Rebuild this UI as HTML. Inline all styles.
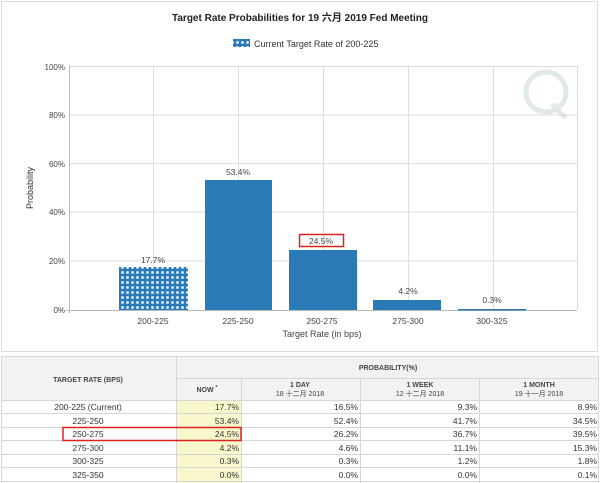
<!DOCTYPE html>
<html><head><meta charset="utf-8"><style>
html,body{margin:0;padding:0;background:#fff;width:600px;height:483px;overflow:hidden;font-family:"Liberation Sans","Noto Sans CJK SC",sans-serif;}
svg text{font-family:"Liberation Sans","Noto Sans CJK SC",sans-serif;}
</style></head><body>
<svg width="600" height="483" viewBox="0 0 600 483" xmlns="http://www.w3.org/2000/svg">
<defs>
<pattern id="hx" width="5" height="5" patternUnits="userSpaceOnUse">
<rect width="5" height="5" fill="#2a7ab8"/>
<circle cx="2.5" cy="2.5" r="1.5" fill="#cfe6f7"/>
</pattern>
</defs>
<rect x="1.5" y="1.5" width="596" height="350" fill="#fff" stroke="#ddd"/>
<text x="300" y="21" font-size="10" font-weight="bold" text-anchor="middle" fill="#222">Target Rate Probabilities for 19 六月  2019 Fed Meeting</text>
<rect x="233" y="39" width="17" height="8" fill="url(#hx)"/>
<text x="254" y="47" font-size="9" fill="#333">Current Target Rate of 200-225</text>
<!-- grid -->
<g stroke="#ddd" stroke-width="1">
<line x1="69" y1="66.5" x2="577" y2="66.5"/>
<line x1="69" y1="115" x2="577" y2="115"/>
<line x1="69" y1="163.5" x2="577" y2="163.5"/>
<line x1="69" y1="212" x2="577" y2="212"/>
<line x1="69" y1="261" x2="577" y2="261"/>
<line x1="153.5" y1="66" x2="153.5" y2="310"/>
<line x1="238.5" y1="66" x2="238.5" y2="310"/>
<line x1="323.5" y1="66" x2="323.5" y2="310"/>
<line x1="408.5" y1="66" x2="408.5" y2="310"/>
<line x1="493.5" y1="66" x2="493.5" y2="310"/>
<line x1="577.5" y1="66" x2="577.5" y2="310"/>
</g>
<line x1="69.5" y1="66" x2="69.5" y2="313" stroke="#bbb"/>
<line x1="66" y1="310.5" x2="577" y2="310.5" stroke="#bbb"/>
<g font-size="8" fill="#444" text-anchor="end">
<text x="65" y="70">100%</text><text x="65" y="118">80%</text><text x="65" y="167">60%</text>
<text x="65" y="215">40%</text><text x="65" y="264">20%</text><text x="65" y="313">0%</text>
</g>
<text transform="translate(33,188) rotate(-90)" font-size="9" fill="#333" text-anchor="middle">Probability</text>
<!-- watermark -->
<g opacity="0.25" stroke="#8aa" fill="none" stroke-width="5"><circle cx="546" cy="92" r="20"/><line x1="552" y1="104" x2="566" y2="118"/></g>
<!-- bars -->
<rect x="119" y="267" width="69" height="43" fill="url(#hx)"/>
<rect x="205" y="180" width="67" height="130" fill="#2a7ab5"/>
<rect x="289" y="250" width="68" height="60" fill="#2a7ab5"/>
<rect x="373" y="300" width="68" height="10" fill="#2a7ab5"/>
<rect x="458" y="309" width="68" height="1.5" fill="#2a7ab5"/>
<g font-size="8.5" fill="#444" text-anchor="middle">
<text x="153" y="263">17.7%</text><text x="238" y="175">53.4%</text><text x="321" y="244">24.5%</text>
<text x="408" y="294">4.2%</text><text x="492" y="303">0.3%</text>
<text x="153" y="324">200-225</text><text x="238" y="324">225-250</text><text x="322" y="324">250-275</text>
<text x="408" y="324">275-300</text><text x="492" y="324">300-325</text>
<text x="322" y="337" font-size="9">Target Rate (in bps)</text>
</g>
<rect x="299.5" y="234.5" width="44" height="12" fill="none" stroke="#d22" stroke-width="1.5"/>
<!-- table -->
<rect x="1" y="356" width="598" height="44" fill="#f2f2f2"/>
<rect x="176" y="400" width="65" height="83" fill="#f8f8cc"/>
<g stroke="#d6d6d6" stroke-width="1">
<line x1="1" y1="356.5" x2="599" y2="356.5"/>
<line x1="176" y1="378.5" x2="599" y2="378.5"/>
<line x1="1" y1="400.5" x2="599" y2="400.5"/>
<line x1="1" y1="413.5" x2="599" y2="413.5"/>
<line x1="1" y1="427.5" x2="599" y2="427.5"/>
<line x1="1" y1="440.5" x2="599" y2="440.5"/>
<line x1="1" y1="454.5" x2="599" y2="454.5"/>
<line x1="1" y1="467.5" x2="599" y2="467.5"/>
<line x1="1" y1="481.5" x2="599" y2="481.5"/>
<line x1="1.5" y1="356" x2="1.5" y2="483"/>
<line x1="176.5" y1="356" x2="176.5" y2="483"/>
<line x1="241.5" y1="378" x2="241.5" y2="483"/>
<line x1="360.5" y1="378" x2="360.5" y2="483"/>
<line x1="479.5" y1="378" x2="479.5" y2="483"/>
<line x1="598.5" y1="356" x2="598.5" y2="483"/>
</g>
<g font-size="7" fill="#444" text-anchor="middle" font-weight="bold">
<text x="88" y="382">TARGET RATE (BPS)</text>
<text x="388" y="370">PROBABILITY(%)</text>
<text x="207" y="392">NOW <tspan font-size="5" dy="-3">*</tspan></text>
<text x="300" y="387">1 DAY</text><text x="300" y="396" font-weight="normal">18 十二月 2018</text>
<text x="420" y="387">1 WEEK</text><text x="420" y="396" font-weight="normal">12 十二月 2018</text>
<text x="539" y="387">1 MONTH</text><text x="539" y="396" font-weight="normal">19 十一月 2018</text>
</g>
<g font-size="8.5" fill="#333">
<g text-anchor="middle">
<text x="88" y="410">200-225 (Current)</text><text x="88" y="424">225-250</text><text x="88" y="437">250-275</text>
<text x="88" y="451">275-300</text><text x="88" y="464">300-325</text><text x="88" y="478">325-350</text>
</g>
<g text-anchor="end">
<text x="239" y="410">17.7%</text><text x="358" y="410">16.5%</text><text x="477" y="410">9.3%</text><text x="597" y="410">8.9%</text>
<text x="239" y="424">53.4%</text><text x="358" y="424">52.4%</text><text x="477" y="424">41.7%</text><text x="597" y="424">34.5%</text>
<text x="239" y="437">24.5%</text><text x="358" y="437">26.2%</text><text x="477" y="437">36.7%</text><text x="597" y="437">39.5%</text>
<text x="239" y="451">4.2%</text><text x="358" y="451">4.6%</text><text x="477" y="451">11.1%</text><text x="597" y="451">15.3%</text>
<text x="239" y="464">0.3%</text><text x="358" y="464">0.3%</text><text x="477" y="464">1.2%</text><text x="597" y="464">1.8%</text>
<text x="239" y="478">0.0%</text><text x="358" y="478">0.0%</text><text x="477" y="478">0.0%</text><text x="597" y="478">0.1%</text>
</g>
</g>
<rect x="63" y="427.5" width="178" height="13" fill="none" stroke="#d22" stroke-width="1.5"/>
</svg>
</body></html>
